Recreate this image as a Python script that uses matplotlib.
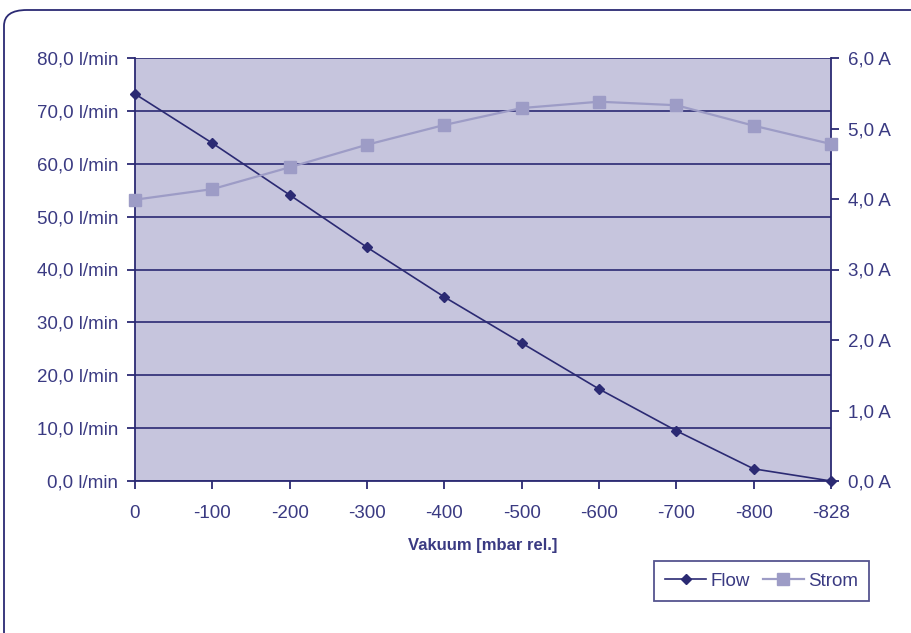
import matplotlib.pyplot as plt
from matplotlib.patches import FancyBboxPatch

# Daten
vakuum = ['0', '-100', '-200', '-300', '-400', '-500', '-600', '-700', '-800', '-828']
flow = [73.2, 63.9, 54.1, 44.2, 34.8, 26.1, 17.4, 9.5, 2.3, 0.0]
strom = [3.99, 4.14, 4.45, 4.77, 5.05, 5.29, 5.38, 5.33, 5.04, 4.78]

NAVY = '#2b2a73'
TEXT = '#3a3a82'
LILA = '#9d9cc6'
BG = '#c6c5dd'

plt.rcParams['font.family'] = ['Liberation Sans', 'DejaVu Sans']

fig = plt.figure(figsize=(9.12, 6.33), dpi=100)

# Rahmen mit runder Ecke
frame = FancyBboxPatch((4 / 912, -0.2), 1.2, (633 - 10) / 633 + 0.2,
                       boxstyle='round,pad=0,rounding_size=0.025',
                       transform=fig.transFigure, fill=False,
                       edgecolor=NAVY, linewidth=1.3, zorder=0)
fig.patches.append(frame)

ax = fig.add_axes([135 / 912, 1 - 481 / 633, (831 - 135) / 912, (481 - 58) / 633])
ax2 = ax.twinx()

x = range(len(vakuum))
ax.set_facecolor(BG)
ax.plot(x, flow, color=NAVY, marker='D', markersize=5, linewidth=1.2,
        label='Flow', zorder=5, clip_on=False)
ax2.plot(x, strom, color=LILA, marker='s', markersize=8, linewidth=1.6,
         label='Strom', zorder=4, clip_on=False)

ax.set_xlim(0, len(vakuum) - 1)
ax.set_ylim(0, 80)
ax2.set_ylim(0, 6)
ax.set_xticks(list(x))
ax.set_xticklabels(vakuum)
ax.set_yticks(range(0, 81, 10))
ax.set_yticklabels([f'{v},0 l/min' for v in range(0, 81, 10)])
ax2.set_yticks(range(0, 7))
ax2.set_yticklabels([f'{v},0 A' for v in range(0, 7)])

ax.yaxis.grid(True, color=NAVY, linewidth=1.2)
ax.set_axisbelow(True)

for a in (ax, ax2):
    for s in a.spines.values():
        s.set_visible(False)
    a.tick_params(colors=NAVY, labelcolor=TEXT, labelsize=13.5, length=6, width=1.3)
ax.spines['left'].set_visible(True)
ax.spines['bottom'].set_visible(True)
ax2.spines['right'].set_visible(True)
for s in ('left', 'bottom'):
    ax.spines[s].set_color(NAVY)
    ax.spines[s].set_linewidth(1.3)
ax2.spines['right'].set_color(NAVY)
ax2.spines['right'].set_linewidth(1.3)
ax.tick_params(axis='x', pad=11)
ax.tick_params(axis='y', pad=6)
ax2.tick_params(axis='y', pad=6)

ax.set_xlabel('Vakuum [mbar rel.]', color=TEXT, fontsize=12,
              fontweight='bold', labelpad=12)

h1, l1 = ax.get_legend_handles_labels()
h2, l2 = ax2.get_legend_handles_labels()
leg = fig.legend(h1 + h2, l1 + l2, loc='lower left',
                 bbox_to_anchor=(654 / 912, 1 - 601 / 633, (869 - 654) / 912, (601 - 563) / 633),
                 mode='expand', ncol=2, frameon=True, fancybox=False,
                 fontsize=13.5, handlelength=2.2, handletextpad=0.2,
                 columnspacing=0.6, borderaxespad=0, borderpad=0.6)
leg.get_frame().set_edgecolor(NAVY)
leg.get_frame().set_linewidth(1.3)
for t in leg.get_texts():
    t.set_color(TEXT)

fig.savefig('out.png', dpi=100)
